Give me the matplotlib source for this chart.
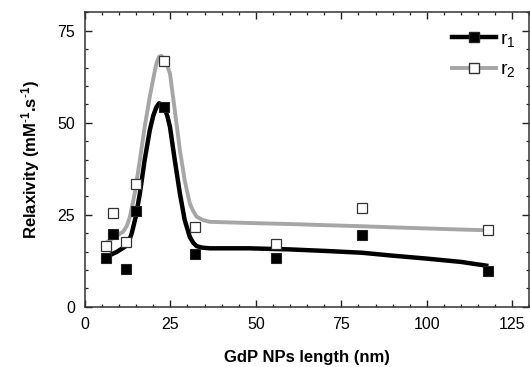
import matplotlib
matplotlib.use("Agg")
import matplotlib.pyplot as plt
from matplotlib.lines import Line2D
from matplotlib.ticker import MultipleLocator

plt.rcParams['font.family'] = ['Liberation Sans', 'DejaVu Sans']
plt.rcParams['mathtext.fontset'] = 'custom'
plt.rcParams['mathtext.rm'] = 'Liberation Sans'
plt.rcParams['mathtext.it'] = 'Liberation Sans'
plt.rcParams['mathtext.bf'] = 'Liberation Sans:bold'

# measured data
length_nm = [6.2, 8.2, 12.1, 15.1, 23.2, 32.1, 56.0, 80.9, 117.8]
r1_vals = [13.3, 19.9, 10.2, 26.0, 54.4, 14.3, 13.4, 19.5, 9.8]
r2_vals = [16.6, 25.5, 17.6, 33.3, 66.7, 21.7, 17.0, 26.9, 20.8]

# fitted curves
r1_fit_x = [6.3, 9.3, 11.7, 12.8, 13.7, 14.9, 16.1, 17.5, 19.0, 20.0, 20.9, 21.7,
            22.5, 23.4, 24.2, 24.9, 26.3, 27.8, 29.2, 30.7, 31.7, 32.7, 34.2,
            36.5, 48.0, 60.0, 70.0, 81.0, 90.0, 100.0, 110.0, 118.0]
r1_fit_y = [13.6, 14.9, 16.3, 17.6, 19.9, 24.5, 30.8, 39.9, 48.0, 51.9, 54.2, 55.3,
            55.0, 53.9, 51.6, 48.9, 39.9, 30.8, 23.6, 19.0, 17.4, 16.5, 16.1,
            15.9, 15.9, 15.6, 15.2, 14.7, 13.9, 13.1, 12.2, 11.1]
r2_fit_x = [6.3, 8.8, 11.2, 12.3, 13.2, 14.6, 16.1, 17.5, 19.0, 20.5, 21.1, 21.7,
            22.4, 23.2, 24.0, 24.9, 26.3, 27.8, 29.2, 30.7, 31.7, 32.7, 34.5,
            36.5, 51.2, 60.0, 70.0, 81.0, 90.0, 100.0, 110.0, 118.0]
r2_fit_y = [17.5, 19.0, 20.4, 22.0, 24.5, 30.8, 39.9, 48.9, 57.1, 64.3, 66.6, 68.0,
            68.2, 67.3, 65.8, 63.4, 53.5, 42.6, 34.4, 28.1, 26.0, 24.5, 23.6,
            23.1, 22.7, 22.5, 22.2, 21.9, 21.6, 21.3, 21.0, 20.8]

x_ticks = [0, 25, 50, 75, 100, 125]
y_ticks = [0, 25, 50, 75]

GRAY = '#a6a6a6'

fig = plt.figure(figsize=(5.30, 3.67), dpi=100)
ax = fig.add_axes([0.160, 0.164, 0.839, 0.802])

ax.plot(r2_fit_x, r2_fit_y, color=GRAY, lw=2.8, solid_capstyle='butt',
        solid_joinstyle='round', zorder=2)
ax.plot(r1_fit_x, r1_fit_y, color='black', lw=3.2, solid_capstyle='butt',
        solid_joinstyle='round', zorder=3)
ax.plot(length_nm, r1_vals, ls='none', marker='s', ms=7.2, mfc='black',
        mec='#222222', mew=0.8, zorder=4)
ax.plot(length_nm, r2_vals, ls='none', marker='s', ms=7.2, mfc='white',
        mec='#333333', mew=0.9, zorder=5)

ax.set_xlim(0, 130)
ax.set_ylim(0, 80)
ax.set_xticks(x_ticks)
ax.set_yticks(y_ticks)
ax.xaxis.set_minor_locator(MultipleLocator(5))
ax.yaxis.set_minor_locator(MultipleLocator(5))
ax.tick_params(which='both', direction='in', top=True, right=True, color='#222222')
ax.tick_params(which='major', length=5, width=1.0, labelsize=11.5, pad=7)
ax.tick_params(which='minor', length=2.2, width=0.9)
for s in ax.spines.values():
    s.set_linewidth(1.1)
    s.set_color('#333333')

ax.set_xlabel('GdP NPs length (nm)', fontsize=12, fontweight='bold', labelpad=13)
ax.set_ylabel(r'Relaxivity (mM$^{\mathbf{\text{-}1}}$.s$^{\mathbf{\text{-}1}}$)',
              fontsize=12, fontweight='bold', labelpad=11)

handles = [Line2D([], [], color='black', lw=3.2, marker='s', ms=7.2, mfc='black',
                  mec='#222222'),
           Line2D([], [], color=GRAY, lw=2.8, marker='s', ms=7.2, mfc='white',
                  mec='#333333')]
ax.legend(handles, [r'r$_1$', r'r$_2$'], loc='upper right', frameon=False,
          fontsize=14, handlelength=2.3, handletextpad=0.2, labelspacing=0.6,
          borderaxespad=0.3, bbox_to_anchor=(1.0, 0.985))

fig.savefig('out.png', dpi=100)
